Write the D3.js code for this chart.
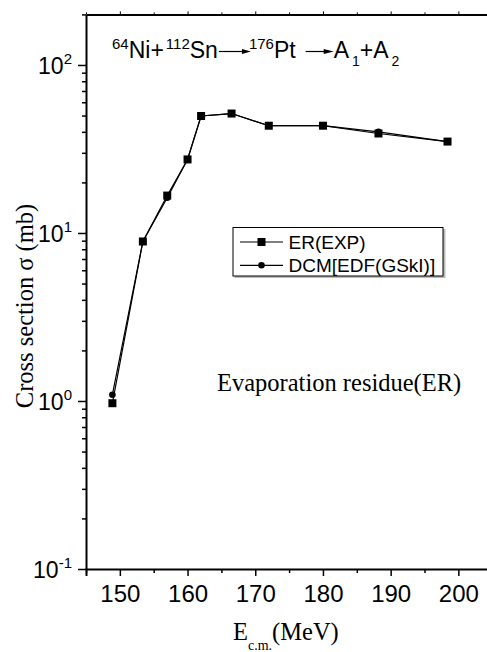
<!DOCTYPE html>
<html><head><meta charset="utf-8">
<script src="https://cdn.jsdelivr.net/npm/d3@7"></script>
<style>body{margin:0;background:#fff}svg{display:block}</style>
</head><body>
<svg id="c" width="487" height="652"></svg>
<script>
const energy = [148.9, 153.4, 157.0, 160.0, 162.0, 166.5, 172.0, 180.0, 188.2, 198.4];
const erExp  = [0.97, 8.9, 16.7, 27.4, 49.7, 51.4, 43.5, 43.5, 39.1, 35.0];
const dcmEdf = [1.09, 8.9, 16.2, 27.4, 49.7, 51.4, 43.5, 43.5, 40.0, 35.0];
const xTicks = [150, 160, 170, 180, 190, 200];
const yTickExps = [-1, 0, 1, 2];
const seriesNames = ["ER(EXP)", "DCM[EDF(GSkI)]"];

const svg = d3.select("#c");
const L = 86, R = 492.2, T = 14.4, B = 569;
const x = d3.scaleLinear().domain([145, 205]).range([L, R]);
const y = d3.scaleLog().domain([0.1, 200]).range([B, T]);
const sans = "Liberation Sans, Arial, sans-serif";
const serif = "Liberation Serif, Times New Roman, serif";

// data lines
const line = d3.line().x(d => x(d[0])).y(d => y(d[1]));
const s1 = energy.map((e, i) => [e, erExp[i]]);
const s2 = energy.map((e, i) => [e, dcmEdf[i]]);
svg.append("path").attr("d", line(s2)).attr("fill", "none").attr("stroke", "#000").attr("stroke-width", 1.2);
svg.append("path").attr("d", line(s1)).attr("fill", "none").attr("stroke", "#000").attr("stroke-width", 1.2);
svg.selectAll(".c1").data(s2).enter().append("circle")
  .attr("cx", d => x(d[0])).attr("cy", d => y(d[1])).attr("r", 3.3).attr("fill", "#000");
svg.selectAll(".s1").data(s1).enter().append("rect")
  .attr("x", d => x(d[0]) - 4).attr("y", d => y(d[1]) - 4).attr("width", 8).attr("height", 8).attr("fill", "#000");

// axes
const gx = svg.append("g").attr("transform", `translate(0,${B})`)
  .call(d3.axisBottom(x).tickValues(xTicks).tickSize(7).tickPadding(9).tickFormat(d3.format("d")));
gx.select(".domain").attr("stroke-width", 2);
gx.selectAll(".tick line").attr("stroke-width", 1.5);
gx.selectAll(".tick text").attr("font-family", sans).attr("font-size", 24).attr("fill", "#000").attr("dy", "0.71em");
const xMinor = d3.range(145, 206, 10);
svg.append("g").attr("transform", `translate(0,${B})`)
  .call(d3.axisBottom(x).tickValues(xMinor).tickSize(4).tickFormat(""))
  .call(g => g.select(".domain").remove())
  .selectAll(".tick line").attr("stroke-width", 1.5);

// top axis
const gt = svg.append("g").attr("transform", `translate(0,${T})`)
  .call(d3.axisTop(x).tickValues(xTicks).tickSize(3).tickSizeOuter(0).tickFormat(""));
gt.select(".domain").attr("stroke-width", 2);
svg.append("g").attr("transform", `translate(0,${T})`)
  .call(d3.axisTop(x).tickValues(xMinor).tickSize(2).tickFormat(""))
  .call(g => g.select(".domain").remove());

// left axis
const yMajor = yTickExps.map(e => Math.pow(10, e));
const gy = svg.append("g").attr("transform", `translate(${L},0)`)
  .call(d3.axisLeft(y).tickValues(yMajor).tickSize(8).tickSizeOuter(0).tickFormat(""));
gy.select(".domain").attr("stroke-width", 2);
gy.selectAll(".tick line").attr("stroke-width", 1.5);
const yMinor = [];
[-1, 0, 1, 2].forEach(e => { for (let k = 2; k <= 9; k++) { const v = k * Math.pow(10, e); if (v <= 200) yMinor.push(v); } });
svg.append("g").attr("transform", `translate(${L},0)`)
  .call(d3.axisLeft(y).tickValues(yMinor).tickSize(4).tickFormat(""))
  .call(g => g.select(".domain").remove())
  .selectAll(".tick line").attr("stroke-width", 1.5);

// y tick labels 10^n
yTickExps.forEach(e => {
  const t = svg.append("text").attr("x", 72).attr("y", y(Math.pow(10, e)) + 9)
    .attr("text-anchor", "end").attr("font-family", sans).attr("fill", "#000");
  t.append("tspan").attr("font-size", 23).text("10");
  t.append("tspan").attr("font-size", 15).attr("dy", -10).text(String(e));
});

// axis titles
svg.append("text").attr("transform", "translate(33,306) rotate(-90)").attr("text-anchor", "middle")
  .attr("font-family", serif).attr("font-size", 24.5).attr("fill", "#000").text("Cross section σ (mb)");
const xt = svg.append("text").attr("x", 233).attr("y", 640).attr("font-family", serif).attr("fill", "#000");
xt.append("tspan").attr("font-size", 24.5).text("E");
xt.append("tspan").attr("font-size", 14).attr("dy", 10).text("c.m.");
xt.append("tspan").attr("font-size", 24.5).attr("dy", -10).text("(MeV)");

// annotation
svg.append("text").attr("x", 217).attr("y", 391).attr("font-family", serif).attr("font-size", 24.5)
  .attr("fill", "#000").text("Evaporation residue(ER)");

// title reaction with arrows
(function () {
  const base = 58.3;
  let cx = 112;
  const g = svg.append("g");
  function seg(txt, size, dy) {
    const t = g.append("text").attr("x", cx).attr("y", base + dy).attr("font-family", sans)
      .attr("font-size", size).attr("fill", "#000").text(txt);
    cx += t.node().getComputedTextLength();
  }
  function arrow(x0, x1, head) {
    const ay = 51.5;
    g.append("line").attr("x1", x0).attr("x2", x1 - head + 1).attr("y1", ay).attr("y2", ay)
      .attr("stroke", "#000").attr("stroke-width", 1.2);
    g.append("path").attr("d", `M${x1},${ay} L${x1 - head},${ay - 2.6} L${x1 - head},${ay + 2.6} Z`).attr("fill", "#000");
  }
  seg("64", 15, -9);
  seg("Ni+", 23, 0);
  cx += 2;
  seg("112", 15, -9);
  seg("Sn", 23, 0);
  const a0 = cx + 1; arrow(a0, a0 + 32, 9);
  cx = a0 + 30;
  seg("176", 15, -9);
  seg("Pt", 23, 0);
  const b0 = cx + 10; arrow(b0, b0 + 28, 10);
  cx = b0 + 28;
  seg("A", 23, 0);
  cx += 3;
  seg("1", 14, 8);
  seg("+A", 23, 0);
  cx += 3;
  seg("2", 14, 8);
})();

// legend
const lg = svg.append("g");
lg.append("rect").attr("x", 234.5).attr("y", 229).attr("width", 211).attr("height", 49).attr("fill", "#bbb");
lg.append("rect").attr("x", 233).attr("y", 227.5).attr("width", 210).attr("height", 48.5)
  .attr("fill", "#fff").attr("stroke", "#000").attr("stroke-width", 1);
const rows = [242, 265.3];
rows.forEach((ry, i) => {
  lg.append("line").attr("x1", 240).attr("x2", 283).attr("y1", ry).attr("y2", ry).attr("stroke", "#000").attr("stroke-width", 1.2);
  if (i === 0) lg.append("rect").attr("x", 257.5).attr("y", ry - 4).attr("width", 8).attr("height", 8).attr("fill", "#000");
  else lg.append("circle").attr("cx", 261.5).attr("cy", ry).attr("r", 3.3).attr("fill", "#000");
  lg.append("text").attr("x", 288.5).attr("y", ry + 7).attr("font-family", sans).attr("font-size", 19)
    .attr("fill", "#000").text(seriesNames[i]);
});
</script>
</body></html>
